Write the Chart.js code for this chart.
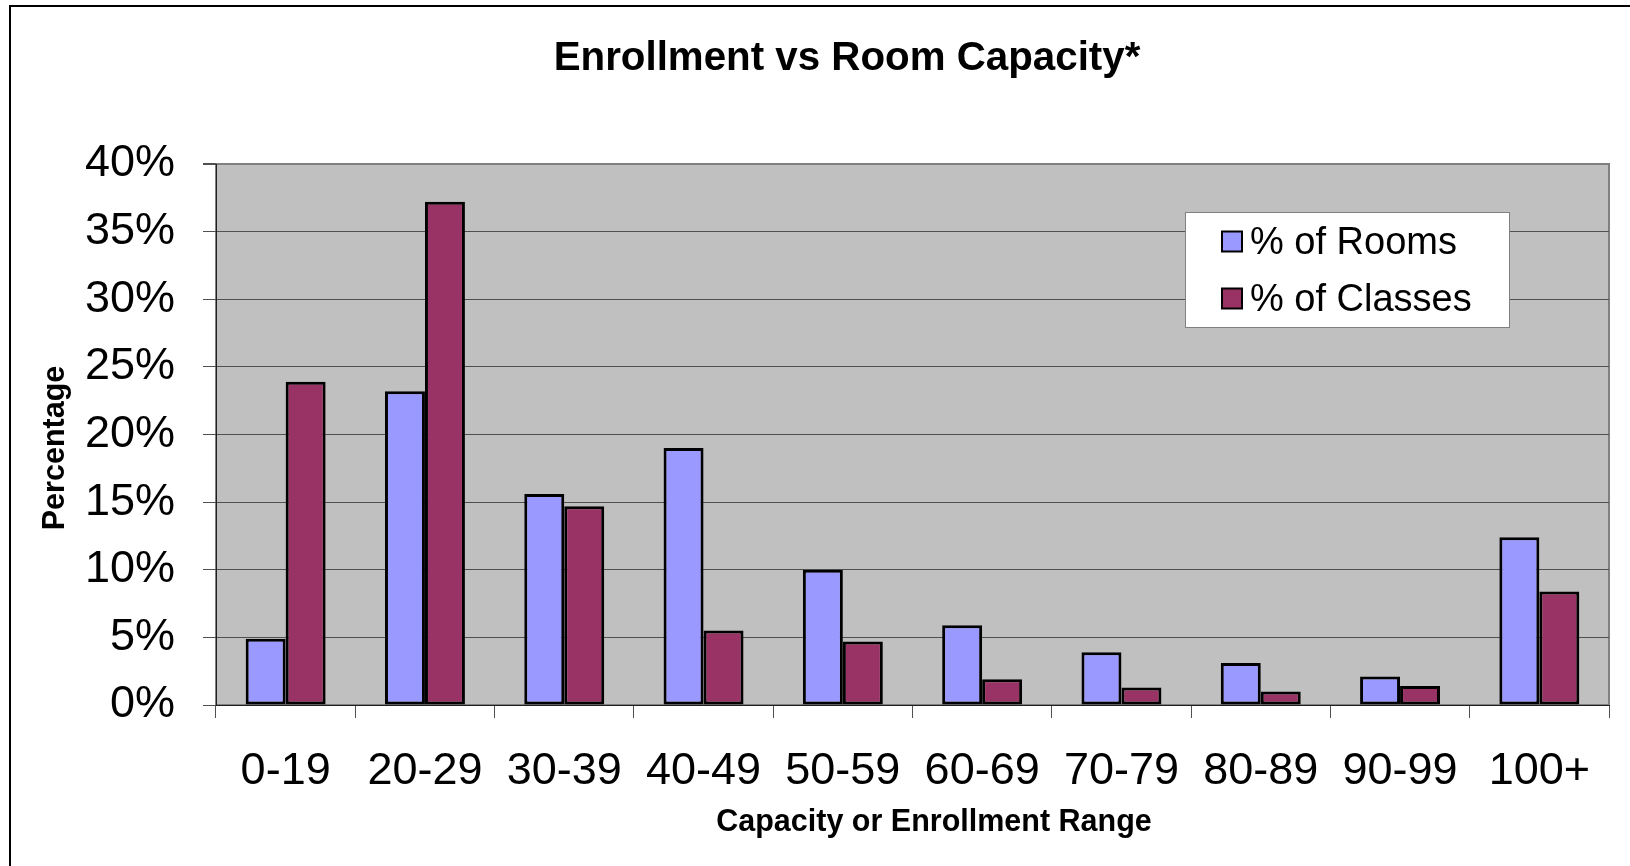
<!DOCTYPE html>
<html>
<head>
<meta charset="utf-8">
<script src="https://cdn.jsdelivr.net/npm/chart.js"></script>
<style>
    html, body { margin: 0; padding: 0; background: #fff; overflow: hidden; }
</style>
</head>
<body>
<canvas id="myChart" width="1630" height="866"></canvas>
<script>
    // 데이터 (그림에서 읽은 값, %)
    const categories = ['0-19', '20-29', '30-39', '40-49', '50-59', '60-69', '70-79', '80-89', '90-99', '100+'];
    const roomsPct = [4.9, 23.2, 15.6, 19.0, 10.0, 5.9, 3.9, 3.1, 2.1, 12.4];
    const classesPct = [23.9, 37.2, 14.7, 5.5, 4.7, 1.9, 1.3, 1.0, 1.4, 8.4];
    const yTicks = [0, 5, 10, 15, 20, 25, 30, 35, 40];

    const FONT = "'Liberation Sans', Arial, sans-serif";

    // 바깥 테두리 + 회색 플롯 배경
    const plotBg = {
        id: 'plotBg',
        beforeDraw(chart) {
            const ctx = chart.ctx;
            const a = chart.chartArea;
            ctx.save();
            ctx.fillStyle = '#fff';
            ctx.fillRect(0, 0, chart.width, chart.height);
            ctx.strokeStyle = '#000';
            ctx.lineWidth = 2;
            ctx.strokeRect(10, 6, 1674, 1000);
            ctx.fillStyle = '#C0C0C0';
            ctx.fillRect(a.left, a.top, a.right - a.left, a.bottom - a.top);
            ctx.strokeStyle = '#808080';
            ctx.strokeRect(a.left, a.top, a.right - a.left, a.bottom - a.top);
            ctx.restore();
        }
    };

    // 제목, 축 제목, 범례 (엑셀 스타일 위치)
    const extras = {
        id: 'extras',
        afterDraw(chart) {
            const ctx = chart.ctx;
            ctx.save();
            ctx.fillStyle = '#000';
            ctx.textBaseline = 'alphabetic';
            ctx.textAlign = 'center';

            ctx.font = 'bold 40.3px ' + FONT;
            ctx.fillText('Enrollment vs Room Capacity*', 847, 70);

            ctx.font = 'bold 30.5px ' + FONT;
            ctx.fillText('Capacity or Enrollment Range', 934, 831);

            ctx.save();
            ctx.translate(64, 448);
            ctx.rotate(-Math.PI / 2);
            ctx.fillText('Percentage', 0, 0);
            ctx.restore();

            // 범례 박스
            ctx.fillStyle = '#fff';
            ctx.fillRect(1185, 212, 324, 115);
            ctx.strokeStyle = '#808080';
            ctx.lineWidth = 1;
            ctx.strokeRect(1185.5, 212.5, 324, 115);

            ctx.textAlign = 'left';
            ctx.textBaseline = 'middle';
            ctx.font = '38px ' + FONT;
            chart.data.datasets.forEach(function(ds, i) {
                const cy = 241.5 + i * 57;
                ctx.fillStyle = ds.backgroundColor;
                ctx.fillRect(1222, cy - 10, 20, 20);
                ctx.strokeStyle = '#000';
                ctx.lineWidth = 2;
                ctx.strokeRect(1222, cy - 10, 20, 20);
                ctx.fillStyle = '#000';
                ctx.fillText(ds.label, 1250, cy + 2);
            });
            ctx.restore();
        }
    };

    const ctx = document.getElementById('myChart');
    let chart = new Chart(ctx, {
        type: 'bar',
        data: {
            labels: categories,
            datasets: [{
                label: '% of Rooms',
                data: roomsPct,
                backgroundColor: '#9999FF',
                borderColor: '#000',
                borderWidth: 3,
                borderSkipped: false,
                categoryPercentage: 0.574,
                barPercentage: 1.0
            }, {
                label: '% of Classes',
                data: classesPct,
                backgroundColor: '#993366',
                borderColor: '#000',
                borderWidth: 3,
                borderSkipped: false,
                categoryPercentage: 0.574,
                barPercentage: 1.0
            }]
        },
        options: {
            responsive: false,
            animation: false,
            layout: { padding: { top: 164, right: 21, left: 0, bottom: 0 } },
            plugins: {
                legend: { display: false },
                title: { display: false },
                tooltip: { enabled: false }
            },
            scales: {
                x: {
                    grid: { offset: true, drawOnChartArea: false, color: '#505050', tickLength: 13 },
                    border: { color: '#202020', width: 1 },
                    ticks: {
                        color: '#000',
                        font: { family: FONT, size: 45 },
                        padding: 27,
                        maxRotation: 0,
                        autoSkip: false
                    },
                    afterFit: function(scale) { scale.height = 161; }
                },
                y: {
                    min: 0,
                    max: 40,
                    afterBuildTicks: function(scale) {
                        scale.ticks = yTicks.map(function(v) { return { value: v }; });
                    },
                    grid: {
                        color: function(c) { return c.tick && c.tick.value === 40 ? '#808080' : '#505050'; },
                        lineWidth: function(c) { return c.tick && c.tick.value === 40 ? 2 : 1; },
                        tickColor: '#505050',
                        tickLength: 13
                    },
                    border: { color: '#202020', width: 1 },
                    ticks: {
                        color: '#000',
                        font: { family: FONT, size: 45 },
                        padding: 28,
                        callback: function(v) { return v + '%'; }
                    },
                    afterFit: function(scale) { scale.width = 216; }
                }
            }
        },
        plugins: [plotBg, extras]
    });
</script>
</body>
</html>
